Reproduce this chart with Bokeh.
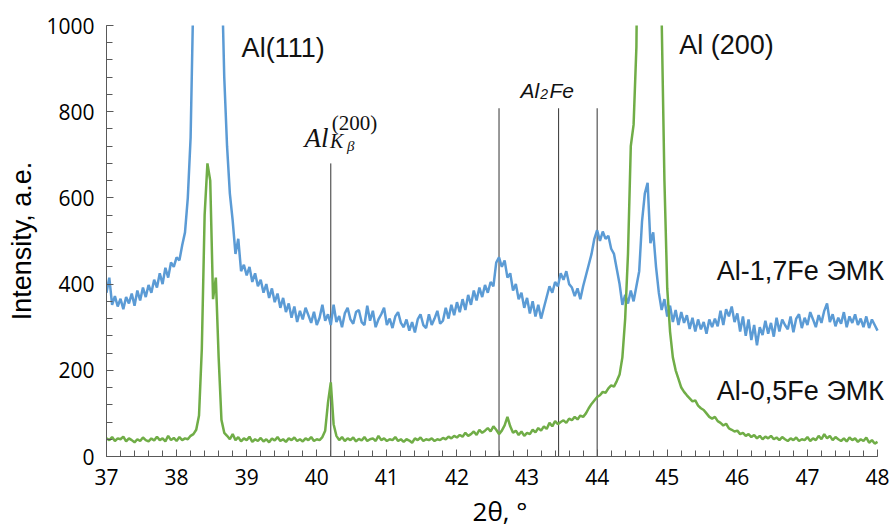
from bokeh.plotting import figure
from bokeh.models import Range1d, Label, FixedTicker
from bokeh.embed import file_html
from bokeh.resources import INLINE

# scan positions (2theta, deg), step 0.04
two_theta = [round(37 + 0.04 * k, 2) for k in range(276)]

# Al-1,7Fe EMK (blue) intensities
al17fe = [
    380, 415, 352, 372, 348, 366, 342, 370, 355, 378,
    350, 385, 362, 392, 370, 398, 380, 410, 392, 425,
    400, 438, 415, 450, 440, 462, 455, 490, 520, 600,
    740, 1080, 1700, 2600, 3600, 4300, 4500, 4200, 3400, 2400,
    1600, 1150, 880, 720, 610, 548, 470, 505, 430, 445,
    420, 440, 405, 425, 395, 410, 380, 400, 368, 390,
    358, 378, 345, 368, 335, 355, 322, 348, 312, 338,
    318, 345, 328, 310, 336, 305, 322, 352, 315, 330,
    305, 352, 312, 326, 300, 332, 345, 318, 308, 335,
    340, 312, 305, 350, 315, 338, 300, 318, 330, 345,
    305, 320, 298, 325, 335, 310, 300, 318, 292, 312,
    288, 318, 330, 305, 298, 330, 305, 320, 338, 308,
    315, 345, 320, 352, 328, 358, 335, 365, 340, 375,
    352, 385, 362, 392, 370, 398, 380, 405, 395, 450,
    462, 440, 455, 415, 425, 385, 400, 365, 380, 345,
    368, 332, 360, 325, 352, 320, 345, 370, 395, 380,
    405, 395, 425, 410, 430, 400, 392, 372, 390, 365,
    395, 420, 445, 470, 505, 525, 500, 522, 505, 512,
    482, 470, 435, 400, 352, 375, 355, 385, 360, 395,
    430, 545, 610, 635, 495, 520, 440, 380, 340, 365,
    325, 350, 312, 340, 305, 335, 310, 328, 296, 322,
    290, 318, 295, 312, 285, 318, 300, 320, 302, 338,
    305, 342, 325, 348, 312, 332, 290, 325, 280, 318,
    270, 305, 258, 300, 282, 315, 285, 310, 278, 322,
    290, 318, 305, 295, 325, 288, 320, 330, 298, 322,
    305, 335, 318, 300, 328, 310, 338, 355, 312, 330,
    302, 322, 308, 335, 300, 325, 310, 330, 305, 320,
    300, 325, 298, 318, 305, 292,
]

# Al-0,5Fe EMK (green) intensities
al05fe = [
    42, 38, 45, 36, 42, 40, 46, 35, 42, 38,
    33, 40, 36, 44, 38, 35, 42, 37, 46, 38,
    42, 35, 48, 38, 43, 36, 45, 38, 42, 40,
    48, 52, 62, 95, 250, 560, 680, 640, 365, 415,
    230, 85, 55, 48, 40, 52, 38, 45, 35, 42,
    38, 46, 34, 40, 36, 43, 35, 40, 33, 42,
    37, 45, 36, 40, 34, 42, 38, 44, 36, 40,
    35, 42, 38, 45, 36, 40, 38, 45, 60, 125,
    172, 75, 48, 38, 45, 36, 42, 38, 44, 35,
    41, 37, 45, 36, 40, 42, 36, 48, 38, 42,
    36, 40, 38, 45, 36, 40, 34, 40, 37, 32,
    42, 38, 44, 36, 40, 38, 42, 36, 40, 38,
    43, 40, 46, 42, 48, 44, 50, 46, 55, 48,
    52, 58, 50, 62, 55, 60, 66, 58, 70, 62,
    52, 60, 72, 92, 70, 55, 60, 50, 58, 48,
    55, 52, 62, 56, 66, 60, 70, 64, 78, 70,
    82, 75, 80, 84, 78, 88, 84, 92, 86, 95,
    92, 100, 112, 122, 130, 138, 142, 150, 148, 158,
    165, 162, 175, 190, 230, 320, 470, 720, 770, 950,
    1600, 3000, 4500, 5200, 5000, 4000, 2700, 1500, 1020, 640,
    390, 290, 230, 200, 180, 160, 150, 142, 135, 128,
    130, 118, 112, 108, 100, 92, 88, 92, 82, 78,
    72, 76, 65, 62, 58, 60, 52, 55, 48, 52,
    45, 50, 42, 48, 40, 46, 42, 48, 40, 44,
    38, 45, 40, 36, 42, 38, 44, 36, 40, 38,
    45, 36, 42, 38, 48, 40, 52, 42, 48, 38,
    45, 40, 36, 42, 35, 44, 38, 42, 34, 40,
    36, 44, 32, 38, 30, 34,
]

# reference lines: Al K-beta (200) and Al2Fe positions
marker_x = [40.2, 42.6, 43.45, 44.0]
marker_top = [680, 808, 808, 808]

# axis ticks
x_major = list(range(37, 49))
x_minor = [round(37 + 0.2 * i, 1) for i in range(56)]
y_major = list(range(0, 1001, 200))
y_minor = list(range(0, 1001, 40))

BLUE = "#5B9BD5"
GREEN = "#70AD47"

p = figure(width=893, height=531, x_range=Range1d(37, 48.228), y_range=Range1d(0, 1000),
           output_backend="svg", toolbar_location=None,
           min_border_left=106, min_border_right=0, min_border_top=25, min_border_bottom=74)
p.outline_line_color = None
p.xgrid.visible = False
p.ygrid.visible = False
p.background_fill_color = "white"
p.border_fill_color = "white"

p.xaxis.ticker = FixedTicker(ticks=x_major, minor_ticks=x_minor)
p.yaxis.ticker = FixedTicker(ticks=y_major, minor_ticks=y_minor)
p.xaxis.bounds = (37, 48)
for ax in (p.xaxis, p.yaxis):
    ax.axis_line_color = "#595959"
    ax.major_tick_line_color = "#595959"
    ax.minor_tick_line_color = "#595959"
    ax.major_tick_in = 7
    ax.major_tick_out = 0
    ax.minor_tick_in = 6
    ax.minor_tick_out = 0
    ax.major_label_text_font = "Open Sans"
    ax.major_label_text_font_size = "21px"
    ax.major_label_text_color = "black"
    ax.axis_label_text_color = "black"
    ax.axis_label_text_font_style = "normal"
p.yaxis.major_label_standoff = 12
p.xaxis.major_label_standoff = 12

p.yaxis.axis_label = "Intensity, a.e."
p.yaxis.axis_label_text_font = "Liberation Sans"
p.yaxis.axis_label_text_font_size = "27px"
p.yaxis.axis_label_standoff = 6
p.xaxis.axis_label = "2θ, °"
p.xaxis.axis_label_text_font = "Open Sans"
p.xaxis.axis_label_text_font_size = "26px"
p.xaxis.axis_label_standoff = 5

p.segment(x0=marker_x, y0=[0] * len(marker_x), x1=marker_x, y1=marker_top,
          line_color="#333333", line_width=1)

p.line(two_theta, al17fe, line_color=BLUE, line_width=2.5)
p.line(two_theta, al05fe, line_color=GREEN, line_width=2.5)

def lab(x, y, text, size, font="Liberation Sans", style="normal", align="center",
        baseline="middle"):
    p.add_layout(Label(x=x, y=y, text=text, text_font=font, text_font_size=size,
                       text_font_style=style, text_align=align, text_baseline=baseline,
                       text_color="#111111"))

lab(39.52, 948, "Al(111)", "27px")
lab(45.845, 955, "Al (200)", "27px")
lab(46.90, 430, "Al-1,7Fe ЭМК", "27px")
lab(46.90, 152, "Al-0,5Fe ЭМК", "27px")

# Al2Fe (italic with subscript)
lab(42.906, 849.5, "Al", "21px", style="italic", align="left", baseline="alphabetic")
lab(43.19, 840, "2", "14px", style="italic", align="left", baseline="alphabetic")
lab(43.32, 849.5, "Fe", "21px", style="italic", align="left", baseline="alphabetic")

# Al K-beta (200)
lab(39.825, 740, "Al", "27px", font="Liberation Serif", style="italic", align="left", baseline="alphabetic")
lab(40.215, 773, "(200)", "21px", font="Liberation Serif", align="left", baseline="alphabetic")
lab(40.19, 732, "K", "20px", font="Liberation Serif", style="italic", align="left", baseline="alphabetic")
lab(40.43, 720, "β", "15px", font="Liberation Serif", style="italic", align="left", baseline="alphabetic")

open("out.html", "w").write(file_html(p, INLINE))
